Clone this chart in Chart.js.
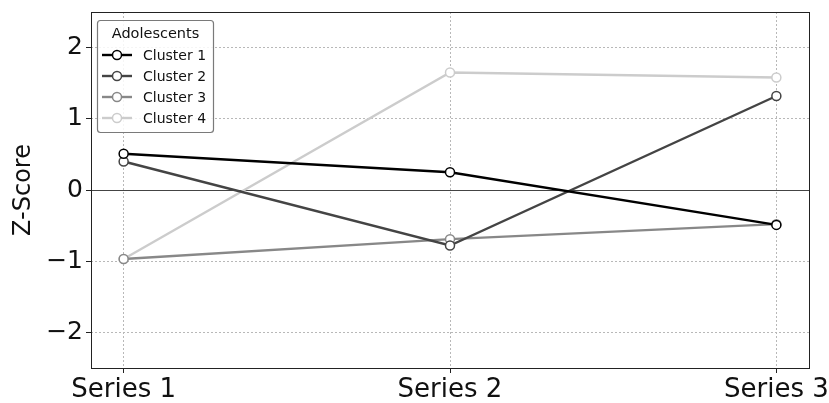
<!DOCTYPE html>
<html>
<head>
<meta charset="utf-8">
<script src="https://cdn.jsdelivr.net/npm/chart.js@4/dist/chart.umd.min.js"></script>
<style>
  html, body { margin: 0; padding: 0; background: #fff; }
  #wrap { width: 829px; height: 403px; }
</style>
</head>
<body>
<div id="wrap"><canvas id="c" width="829" height="403"></canvas></div>
<script>
// Categories along the x axis
const categories = ['Series 1', 'Series 2', 'Series 3'];
// Cluster profiles (z-scores)
const cluster1 = [0.51, 0.25, -0.49];
const cluster2 = [0.40, -0.78, 1.32];
const cluster3 = [-0.97, -0.69, -0.48];
const cluster4 = [-0.97, 1.65, 1.58];
const seriesNames = ['Cluster 1', 'Cluster 2', 'Cluster 3', 'Cluster 4'];
const seriesColors = ['#000000', '#444444', '#888888', '#cccccc'];
const yTicks = [-2, -1, 0, 1, 2];
const legendTitle = 'Adolescents';

const FONT = "'DejaVu Sans', sans-serif";
const allSeries = [cluster1, cluster2, cluster3, cluster4];

const datasets = allSeries.map((vals, i) => ({
  label: seriesNames[i],
  data: vals.map((v, k) => ({ x: k, y: v })),
  borderColor: seriesColors[i],
  borderWidth: 2.4,
  pointRadius: 4.5,
  pointHoverRadius: 4.5,
  pointBackgroundColor: '#ffffff',
  pointBorderColor: seriesColors[i],
  pointBorderWidth: 1.5,
  tension: 0,
  fill: false
}));

// zero reference line and plot frame
const framePlugin = {
  id: 'frame',
  beforeDatasetsDraw(chart) {
    const { ctx, chartArea: a, scales: { y } } = chart;
    const y0 = Math.round(y.getPixelForValue(0)) + 0.5;
    ctx.save();
    ctx.strokeStyle = '#444444';
    ctx.lineWidth = 1;
    ctx.beginPath();
    ctx.moveTo(a.left, y0);
    ctx.lineTo(a.right, y0);
    ctx.stroke();
    ctx.restore();
  },
  afterDatasetsDraw(chart) {
    const { ctx, chartArea: a } = chart;
    ctx.save();
    ctx.strokeStyle = '#222222';
    ctx.lineWidth = 1;
    ctx.strokeRect(Math.round(a.left) + 0.5, Math.round(a.top) + 0.5,
      Math.round(a.right - a.left), Math.round(a.bottom - a.top));
    ctx.restore();
  }
};

// boxed legend with line + marker samples
const legendPlugin = {
  id: 'boxLegend',
  afterDraw(chart) {
    const { ctx, chartArea: a } = chart;
    const x0 = a.left + 6, y0 = a.top + 8;
    const w = 116, h = 112;
    ctx.save();
    ctx.fillStyle = 'rgba(255,255,255,0.85)';
    ctx.strokeStyle = '#7a7a7a';
    ctx.lineWidth = 1.2;
    ctx.beginPath();
    ctx.roundRect(x0 + 0.5, y0 + 0.5, w, h, 3);
    ctx.fill();
    ctx.stroke();
    ctx.fillStyle = '#111';
    ctx.font = '14.5px ' + FONT;
    ctx.textAlign = 'center';
    ctx.textBaseline = 'middle';
    ctx.fillText(legendTitle, x0 + w / 2 + 0.5, y0 + 14);
    chart.data.datasets.forEach((ds, i) => {
      const yy = y0 + 35 + i * 21;
      ctx.strokeStyle = ds.borderColor;
      ctx.lineWidth = 2.4;
      ctx.beginPath();
      ctx.moveTo(x0 + 5, yy);
      ctx.lineTo(x0 + 35, yy);
      ctx.stroke();
      ctx.beginPath();
      ctx.arc(x0 + 20, yy, 4.5, 0, Math.PI * 2);
      ctx.fillStyle = '#fff';
      ctx.fill();
      ctx.lineWidth = 1.5;
      ctx.stroke();
      ctx.fillStyle = '#111';
      ctx.font = '14px ' + FONT;
      ctx.textAlign = 'left';
      ctx.fillText(ds.label, x0 + 46, yy + 1);
    });
    ctx.restore();
  }
};

new Chart(document.getElementById('c'), {
  type: 'line',
  data: { datasets },
  options: {
    responsive: false,
    animation: false,
    events: [],
    layout: { padding: { top: 12, right: 20, left: 0, bottom: 0 } },
    plugins: { legend: { display: false }, tooltip: { enabled: false } },
    scales: {
      x: {
        type: 'linear',
        min: -0.1,
        max: 2.1,
        afterBuildTicks(scale) {
          scale.ticks = categories.map((_, k) => ({ value: k }));
        },
        afterFit(scale) {
          scale.height = 35;
          scale.paddingLeft = 0;
          scale.paddingRight = 0;
        },
        ticks: {
          autoSkip: false,
          maxRotation: 0,
          padding: 2,
          color: '#111',
          font: { family: FONT, size: 26 },
          callback: (v) => categories[v]
        },
        grid: {
          color: '#b8b8b8',
          lineWidth: 1,
          tickLength: 5,
          tickColor: '#222',
          tickWidth: 1,
          tickBorderDash: []
        },
        border: { display: false, dash: [2, 2] }
      },
      y: {
        type: 'linear',
        min: -2.5,
        max: 2.5,
        afterBuildTicks(scale) {
          scale.ticks = yTicks.map(v => ({ value: v }));
        },
        afterFit(scale) {
          scale.width = 91;
          scale.paddingTop = 0;
          scale.paddingBottom = 0;
        },
        title: {
          display: true,
          text: 'Z-Score',
          color: '#111',
          font: { family: FONT, size: 24 },
          padding: { top: 9, bottom: 4 }
        },
        ticks: {
          padding: 3,
          color: '#111',
          font: { family: FONT, size: 25 },
          callback: (v) => (v < 0 ? '\u2212' + Math.abs(v) : String(v))
        },
        grid: {
          color: '#b8b8b8',
          lineWidth: 1,
          tickLength: 5,
          tickColor: '#222',
          tickWidth: 1,
          tickBorderDash: []
        },
        border: { display: false, dash: [2, 2] }
      }
    }
  },
  plugins: [framePlugin, legendPlugin]
});
</script>
</body>
</html>
